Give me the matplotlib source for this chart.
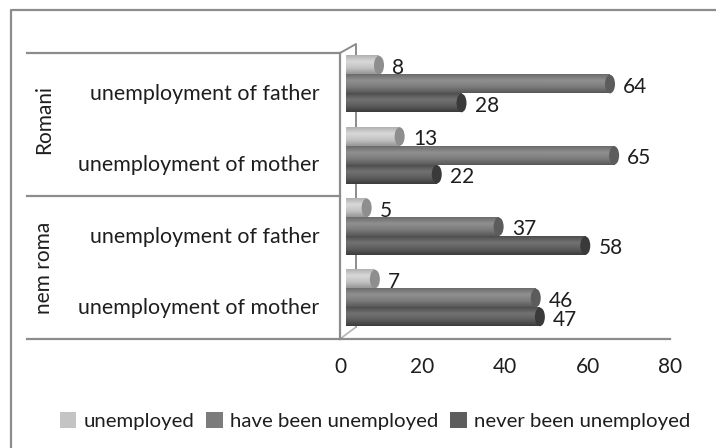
import matplotlib
matplotlib.use('Agg')
import matplotlib.pyplot as plt
import numpy as np
from matplotlib.colors import LinearSegmentedColormap
from matplotlib.patches import Ellipse, Patch
from matplotlib.transforms import ScaledTranslation, blended_transform_factory

plt.rcParams['font.family'] = ['Lato', 'DejaVu Sans']

# dados (de baixo para cima)
categories = ['unemployment of mother', 'unemployment of father',
              'unemployment of mother', 'unemployment of father']
groups = ['nem roma', 'Romani']
series = ['unemployed', 'have been unemployed', 'never been unemployed']
unemployed = [7, 5, 13, 8]
have_been = [46, 37, 65, 64]
never_been = [47, 58, 22, 28]
x_ticks = [0, 20, 40, 60, 80]

W, H = 716, 448
LINE = '#8c8c8c'
TXT = '#1e1e1e'
FS = 15
shift = 6 / 4.125  # eixo de valores deslocado pelo efeito 3D

fig = plt.figure(figsize=(W / 100, H / 100), dpi=100)

# moldura e paredes do grafico, em pixels
bg = fig.add_axes([0, 0, 1, 1])
bg.set_xlim(0, W)
bg.set_ylim(H, 0)
bg.axis('off')
bg.plot([11, 11, W], [H, 10, 10], color=LINE, lw=1.6)
bg.plot([27, 340], [53, 53], color=LINE, lw=1.6)
bg.plot([27, 340], [196, 196], color=LINE, lw=1.6)
bg.plot([27, 340], [339, 339], color=LINE, lw=1.6)
bg.plot([340, 356, 356], [53, 44, 327], color=LINE, lw=1.4)
bg.plot([340, 356], [339, 327], color='#b4b4b4', lw=1.2)

ax = fig.add_axes([340 / W, (H - 339) / H, 330 / W, 286 / H])
ax.patch.set_alpha(0)
ylim = (-41 / 71.3, 245 / 71.3)
xlim = (-shift, 80 - shift)

styles = [
    (['#b2b2b2', '#d8d8d8', '#c4c4c4', '#989898'], '#8e8e8e'),
    (['#6c6c6c', '#909090', '#7c7c7c', '#585858'], '#5c5c5c'),
    (['#4e4e4e', '#727272', '#5e5e5e', '#3c3c3c'], '#3a3a3a'),
]
ypos = np.arange(4)
h = 0.26
offsets = [0.265, 0.0, -0.265]
cap = 2 * 5 / 4.125

for i, vals in enumerate([unemployed, have_been, never_been]):
    cmap = LinearSegmentedColormap.from_list('c%d' % i, styles[i][0])
    grad = np.linspace(0, 1, 40).reshape(-1, 1)
    z = 2 + i * 2
    for y, v in zip(ypos + offsets[i], vals):
        ax.imshow(grad, cmap=cmap, aspect='auto', origin='upper',
                  extent=(0, v, y - h / 2, y + h / 2), zorder=z, vmin=0, vmax=1)
        ax.add_patch(Ellipse((v, y), cap, h, color=styles[i][1], zorder=z, lw=0))
        ax.annotate(str(v), (v, y), xytext=(9.5, -2), textcoords='offset points',
                    ha='left', va='center', fontsize=FS, color=TXT, zorder=z - 1,
                    annotation_clip=False)

ax.set_xlim(xlim)
ax.set_ylim(ylim)

ax.set_yticks(ypos)
ax.set_yticklabels(categories, fontsize=15.4, color=TXT)
ax.set_xticks([])
ax.tick_params(axis='y', length=0, pad=15)
# os rotulos ficam um pouco abaixo do centro do grupo
down = ScaledTranslation(0, -8 / 100, fig.dpi_scale_trans)
for lab in ax.get_yticklabels():
    lab.set_transform(lab.get_transform() + down)
for s in ['top', 'right']:
    ax.spines[s].set_visible(False)
for s in ['left', 'bottom']:
    ax.spines[s].set_color(LINE)
    ax.spines[s].set_linewidth(1.6)

sec = ax.secondary_xaxis('bottom', functions=(lambda d: d + shift, lambda s: s - shift))
sec.set_xticks(x_ticks)
sec.tick_params(axis='x', length=0, pad=13, labelsize=FS, labelcolor=TXT)
sec.spines['bottom'].set_visible(False)

# rotulos dos grupos
group_tr = blended_transform_factory(bg.transData, ax.transData)
for name, y in zip(groups, [0.42, 2.5]):
    ax.text(44, y, name, transform=group_tr, rotation=90, ha='center', va='center',
            fontsize=FS, color=TXT)

handles = [Patch(facecolor=c, edgecolor='none') for c in ['#c4c4c4', '#7c7c7c', '#5e5e5e']]
fig.legend(handles, series, loc='center', bbox_to_anchor=(375 / W, (H - 421) / H),
           ncol=3, frameon=False, fontsize=14.7, labelcolor=TXT, handlelength=0.8,
           handleheight=0.8, handletextpad=0.35, columnspacing=0.6, borderpad=0)

fig.savefig('out.png', dpi=100)
